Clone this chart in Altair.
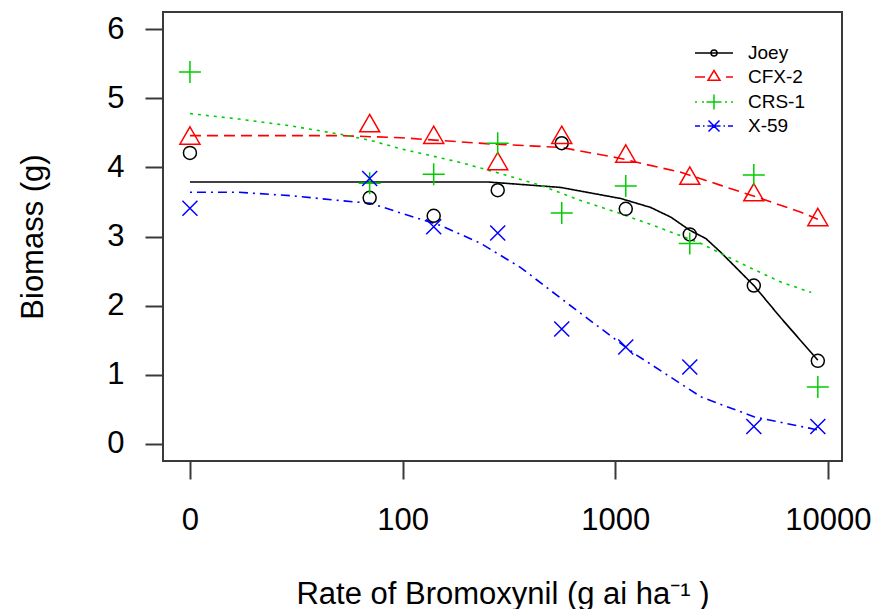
import altair as alt
import pandas as pd

# ---------------- data ----------------
varieties = ["Joey", "CFX-2", "CRS-1", "X-59"]
colors = ["#000000", "#FF0000", "#00CD00", "#0000FF"]

doses = [0, 70, 140, 280, 560, 1120, 2240, 4480, 8960]
joey_obs = [4.21, 3.56, 3.30, 3.67, 4.35, 3.40, 3.03, 2.29, 1.20]
cfx2_obs = [4.42, 4.60, 4.43, 4.05, 4.43, 4.16, 3.84, 3.60, 3.24]
crs1_obs = [5.38, 3.77, 3.90, 4.35, 3.34, 3.73, 2.90, 3.89, 0.82]
x59_obs = [3.41, 3.84, 3.14, 3.05, 1.66, 1.40, 1.11, 0.25, 0.25]

# fitted curves
joey_fit_dose = [0, 100, 250, 413, 554, 1061, 1468, 1825, 2242, 2667, 3136, 4484, 6010, 8960]
joey_fit = [3.79, 3.79, 3.79, 3.74, 3.71, 3.55, 3.42, 3.28, 3.09, 2.97, 2.77, 2.29, 1.82, 1.21]
cfx2_fit_dose = [0, 51, 98, 259, 554, 1061, 1362, 2033, 3136, 4841, 7464, 8960]
cfx2_fit = [4.46, 4.46, 4.43, 4.34, 4.29, 4.13, 4.05, 3.93, 3.74, 3.55, 3.35, 3.25]
crs1_fit_dose = [0, 17, 30, 51, 71, 98, 188, 289, 446, 688, 1061, 1637, 2523, 3898, 6010, 8340]
crs1_fit = [4.78, 4.70, 4.60, 4.48, 4.39, 4.27, 4.07, 3.91, 3.74, 3.52, 3.33, 3.12, 2.90, 2.61, 2.34, 2.19]
x59_fit_dose = [0, 17, 30, 51, 71, 98, 151, 233, 359, 597, 1222, 2523, 4484, 8960]
x59_fit = [3.64, 3.64, 3.59, 3.52, 3.48, 3.34, 3.16, 2.90, 2.55, 2.03, 1.31, 0.68, 0.39, 0.20]

x_ticks = [10, 100, 1000, 10000]
y_ticks = [0, 1, 2, 3, 4, 5, 6]

# ---------------- tables ----------------
obs_rows = []
for v, vals in zip(varieties, [joey_obs, cfx2_obs, crs1_obs, x59_obs]):
    for d, b in zip(doses, vals):
        obs_rows.append({"variety": v, "dose": d, "biomass": b})
obs = pd.DataFrame(obs_rows)

fit_rows = []
for v, ds, vals in zip(varieties,
                       [joey_fit_dose, cfx2_fit_dose, crs1_fit_dose, x59_fit_dose],
                       [joey_fit, cfx2_fit, crs1_fit, x59_fit]):
    for i, (d, b) in enumerate(zip(ds, vals)):
        fit_rows.append({"variety": v, "dose": d, "biomass": b, "i": i})
fit = pd.DataFrame(fit_rows)

# ---------------- styling ----------------
FONT = "Liberation Sans"
x_scale = alt.Scale(type="log", domain=[7.47, 11640], nice=False)
y_scale = alt.Scale(domain=[-0.25, 6.25], nice=False, zero=False)
color_scale = alt.Scale(domain=varieties, range=colors)
dashes = {"Joey": [1, 0], "CFX-2": [11, 6], "CRS-1": [3, 5], "X-59": [2, 5, 9, 5]}

marker_paths = {
    "Joey": "M1.3,0A1.3,1.3 0 1,1 -1.3,0A1.3,1.3 0 1,1 1.3,0Z",
    "CFX-2": "M0,-2.31L2,1.155L-2,1.155Z",
    "CRS-1": "M-2.2,0H2.2M0,-2.2V2.2",
    "X-59": "M-1.5,-1.5L1.5,1.5M-1.5,1.5L1.5,-1.5",
}
legend_paths = [
    "M-3.8,0H3.8M0.6,0A0.6,0.6 0 1,1 -0.6,0A0.6,0.6 0 1,1 0.6,0Z",
    "M-3.8,0H-1.8M2.4,0H3.8M0,-1.3L1.2,0.65L-1.2,0.65Z",
    "M-3.8,0H-3.4M-2.4,0H-2.0M2.2,0H2.6M3.4,0H3.8M-1.5,0H1.5M0,-1.5V1.5",
    "M-3.8,0H-2.8M-2.2,0H-1.9M-1.3,0H1.3M-1.1,-1.1L1.1,1.1M-1.1,1.1L1.1,-1.1M1.9,0H2.2M2.8,0H3.8",
]
shape_scale = alt.Scale(domain=varieties, range=legend_paths)

x_axis = alt.Axis(values=x_ticks,
                  labelExpr="datum.value == 10 ? '0' : format(datum.value, 'd')",
                  title="Rate of Bromoxynil (g ai ha⁻¹ )",
                  titleY=142, titleBaseline="alphabetic",
                  labelPadding=26, tickSize=18, grid=False, domain=False,
                  labelFlush=False, labelOverlap=False)
y_axis = alt.Axis(values=y_ticks, title="Biomass (g)",
                  titleX=-121, titleY=224.5, titleAngle=270,
                  titleBaseline="alphabetic", titleAlign="center",
                  labelPadding=21, tickSize=18, grid=False, domain=False)

base_x = alt.X("xpos:Q", scale=x_scale, axis=x_axis)
base_y = alt.Y("biomass:Q", scale=y_scale, axis=y_axis)

legend_props = dict(orient="none", legendX=541.5, legendY=31.5, title=None,
                    labelFont=FONT, labelFontSize=19, labelColor="#000000",
                    symbolSize=100, symbolStrokeWidth=1.5, symbolOpacity=1,
                    rowPadding=4, labelOffset=24.5, symbolOffset=0, padding=0,
                    labelLimit=300)

# invisible layer that only carries the legend (placed first so its legend wins)
legend_layer = alt.Chart(obs).transform_calculate(
    xpos="datum.dose == 0 ? 10 : datum.dose"
).mark_point(size=100, filled=False, strokeWidth=1.5, opacity=0).encode(
    x=base_x, y=base_y,
    color=alt.Color("variety:N", scale=color_scale, legend=alt.Legend(**legend_props)),
    shape=alt.Shape("variety:N", scale=shape_scale, legend=alt.Legend(**legend_props)),
)

line_layers = []
point_layers = []
for v in varieties:
    line_layers.append(
        alt.Chart(fit).transform_filter(alt.datum.variety == v).transform_calculate(
            xpos="datum.dose == 0 ? 10 : datum.dose"
        ).mark_line(strokeWidth=1.6, strokeDash=dashes[v]).encode(
            x=base_x, y=base_y,
            color=alt.Color("variety:N", scale=color_scale, legend=None),
            order=alt.Order("i:Q"),
        )
    )
    point_layers.append(
        alt.Chart(obs).transform_filter(alt.datum.variety == v).transform_calculate(
            xpos="datum.dose == 0 ? 10 : datum.dose"
        ).mark_point(shape=marker_paths[v], size=100, filled=False, strokeWidth=1.5, opacity=1).encode(
            x=base_x, y=base_y,
            color=alt.Color("variety:N", scale=color_scale, legend=None),
        )
    )

chart = alt.layer(legend_layer, *line_layers, *point_layers).properties(
    width=679, height=449,
    padding={"left": 163, "top": 12, "right": 32, "bottom": 148},
    autosize=alt.AutoSizeParams(type="none"),
    background="white",
).configure_view(
    stroke="#3a3a3a", strokeWidth=2
).configure_axis(
    labelFont=FONT, labelFontSize=31, labelColor="#000000",
    titleFont=FONT, titleFontSize=31, titleFontWeight="normal", titleColor="#000000",
    tickColor="#3a3a3a", tickWidth=2,
)

chart.save("out.html", embed_options={"renderer": "svg", "actions": False})
